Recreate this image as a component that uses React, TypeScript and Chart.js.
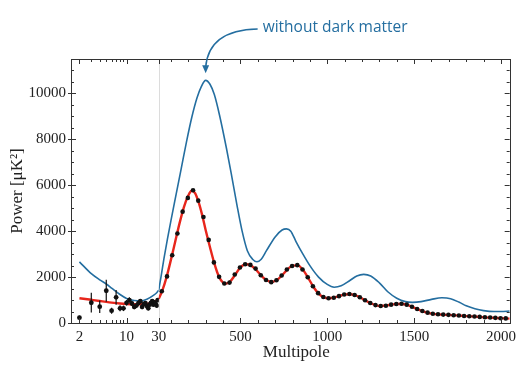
import React, { useEffect, useRef } from 'react';
import { Chart, registerables } from 'chart.js';

Chart.register(...registerables);

// ---------- data ----------
const LOW_ELL = [2, 3, 4, 5, 6, 7, 8, 9, 10, 11, 12, 13, 14, 15, 16, 17, 18, 19, 20, 21, 22, 23, 24, 25, 26, 27, 28, 29];
const LOW_POWER = [230, 883, 709, 1404, 535, 1117, 639, 639, 880, 1000, 850, 700, 760, 870, 950, 700, 820, 870, 740, 640, 800, 880, 950, 800, 900, 830, 760, 1000];
const LOW_ERR = [90, 430, 270, 480, 130, 320, 130, 120, 120, 120, 110, 100, 100, 100, 100, 100, 90, 90, 90, 90, 90, 90, 90, 80, 80, 80, 80, 80];

const BIN_ELL = [47.5, 77.5, 107.5, 137.5, 167.5, 197.5, 227.5, 257.5, 287.5, 317.5, 347.5, 377.5, 407.5, 437.5, 467.5, 497.5, 527.5, 557.5, 587.5, 617.5, 647.5, 677.5, 707.5, 737.5, 767.5, 797.5, 827.5, 857.5, 887.5, 917.5, 947.5, 977.5, 1007.5, 1037.5, 1067.5, 1097.5, 1127.5, 1157.5, 1187.5, 1217.5, 1247.5, 1277.5, 1307.5, 1337.5, 1367.5, 1397.5, 1427.5, 1457.5, 1487.5, 1517.5, 1547.5, 1577.5, 1607.5, 1637.5, 1667.5, 1697.5, 1727.5, 1757.5, 1787.5, 1817.5, 1847.5, 1877.5, 1907.5, 1937.5, 1967.5, 1997.5, 2027.5];
const BIN_POWER = [1380, 2030, 2950, 3900, 4850, 5450, 5780, 5330, 4620, 3620, 2640, 2010, 1720, 1760, 2110, 2420, 2560, 2530, 2370, 2080, 1870, 1780, 1860, 2070, 2330, 2480, 2520, 2330, 1990, 1600, 1300, 1130, 1080, 1100, 1170, 1240, 1260, 1220, 1120, 990, 870, 780, 740, 750, 800, 830, 840, 800, 710, 610, 520, 450, 405, 380, 365, 355, 340, 325, 305, 295, 280, 265, 250, 240, 225, 210, 200];

const RED_LOW_ELL = [2, 3, 4, 5, 6, 8, 10, 13, 16, 20, 25, 30];
const RED_LOW = [1080, 1010, 960, 920, 890, 850, 830, 820, 820, 840, 900, 1050];
const RED_HIGH_ELL = [30, 50, 75, 100, 125, 150, 175, 200, 220, 240, 260, 280, 300, 325, 350, 375, 400, 420, 440, 470, 500, 530, 560, 590, 620, 650, 680, 710, 740, 770, 800, 830, 860, 890, 920, 950, 980, 1010, 1040, 1070, 1100, 1130, 1160, 1190, 1220, 1250, 1280, 1310, 1340, 1370, 1400, 1430, 1460, 1490, 1520, 1550, 1600, 1650, 1700, 1750, 1800, 1850, 1900, 1950, 2000, 2050];
const RED_HIGH = [1050, 1400, 2000, 2750, 3550, 4350, 5050, 5550, 5760, 5650, 5250, 4700, 4050, 3300, 2600, 2050, 1760, 1720, 1800, 2100, 2420, 2560, 2510, 2320, 2060, 1860, 1790, 1870, 2080, 2330, 2500, 2510, 2320, 1970, 1580, 1280, 1120, 1080, 1110, 1180, 1240, 1255, 1210, 1110, 980, 860, 770, 740, 760, 800, 830, 830, 790, 700, 600, 510, 410, 370, 350, 330, 300, 280, 250, 230, 210, 190];

const BLUE_LOW_ELL = [2, 3, 4, 5, 6, 8, 10, 13, 17, 20, 25, 28, 30];
const BLUE_LOW = [2665, 2150, 1880, 1700, 1520, 1240, 1070, 980, 970, 1030, 1200, 1320, 1430];
const BLUE_HIGH_ELL = [30, 45, 60, 80, 100, 130, 160, 190, 220, 250, 275, 300, 325, 350, 380, 420, 450, 480, 510, 540, 570, 595, 620, 650, 700, 740, 765, 790, 820, 860, 900, 950, 1000, 1040, 1080, 1130, 1170, 1210, 1250, 1300, 1350, 1400, 1450, 1490, 1540, 1600, 1660, 1710, 1760, 1800, 1850, 1900, 1960, 2000, 2050];
const BLUE_HIGH = [1430, 2100, 2800, 3650, 4450, 5600, 6750, 7900, 8950, 9800, 10300, 10570, 10400, 9950, 9050, 7600, 6400, 5150, 4000, 3150, 2780, 2670, 2780, 3150, 3750, 4050, 4100, 4000, 3550, 3000, 2500, 2000, 1680, 1560, 1620, 1850, 2050, 2120, 2050, 1750, 1350, 1080, 930, 900, 930, 1030, 1100, 1060, 900, 750, 620, 540, 500, 500, 520];

const LOG_TICK_LABELS = [2, 10, 30];
const LOG_MINOR_TICKS = [2, 3, 4, 5, 6, 7, 8, 9, 10, 20, 30];
const LIN_TICK_LABELS = [500, 1000, 1500, 2000];
const Y_TICK_LABELS = [0, 2000, 4000, 6000, 8000, 10000];

const ANNOT_TEXT = 'without dark matter';
const ANNOT_ELL = 300;
const ANNOT_POWER = 10570;

const BLUE = '#246ea0';
const RED = '#e8261c';
const SERIF = '"Liberation Serif", "DejaVu Serif", serif';

const pts = (xs: number[], ys: number[]) => xs.map((x, i) => ({ x, y: ys[i] }));

const decorPlugin = {
  id: 'decor',
  beforeDatasetsDraw(chart: any) {
    const { ctx, chartArea: a, scales } = chart;
    const x30 = scales.xLin.getPixelForValue(30);
    ctx.save();
    ctx.strokeStyle = '#dcdcdc';
    ctx.lineWidth = 1;
    ctx.beginPath();
    ctx.moveTo(Math.round(x30) + 0.5, a.top);
    ctx.lineTo(Math.round(x30) + 0.5, a.bottom);
    ctx.stroke();
    ctx.restore();
  },
  afterDatasetsDraw(chart: any) {
    const { ctx, scales } = chart;
    const xs = scales.xLog, y = scales.y;
    ctx.save();
    ctx.strokeStyle = '#111';
    ctx.lineWidth = 1.2;
    LOW_ELL.forEach((l, i) => {
      const px = xs.getPixelForValue(l);
      ctx.beginPath();
      ctx.moveTo(px, y.getPixelForValue(LOW_POWER[i] - LOW_ERR[i]));
      ctx.lineTo(px, y.getPixelForValue(LOW_POWER[i] + LOW_ERR[i]));
      ctx.stroke();
    });
    ctx.restore();
  },
  afterDraw(chart: any) {
    const { ctx, chartArea: a, scales } = chart;
    const xLog = scales.xLog, xLin = scales.xLin, y = scales.y;
    ctx.save();
    ctx.strokeStyle = '#333';
    ctx.lineWidth = 1;
    ctx.strokeRect(Math.round(a.left) + 0.5, Math.round(a.top) + 0.5, Math.round(a.right - a.left), Math.round(a.bottom - a.top));
    const vtick = (px: number, len: number) => {
      const x = Math.round(px) + 0.5;
      ctx.beginPath();
      ctx.moveTo(x, a.bottom); ctx.lineTo(x, a.bottom - len);
      ctx.moveTo(x, a.top); ctx.lineTo(x, a.top + len);
      ctx.stroke();
    };
    LOG_MINOR_TICKS.forEach((v) => vtick(xLog.getPixelForValue(v), LOG_TICK_LABELS.includes(v) ? 5 : 3));
    for (let v = 100; v <= 2000; v += 100) vtick(xLin.getPixelForValue(v), v % 500 === 0 ? 5 : 3);
    for (let v = 0; v <= 11500; v += 500) {
      const py = Math.round(y.getPixelForValue(v)) + 0.5;
      const major = v % 2000 === 0;
      const len = major ? 5 : 3;
      ctx.beginPath();
      ctx.moveTo(a.left - (major ? 3 : 0), py); ctx.lineTo(a.left + len, py);
      ctx.moveTo(a.right, py); ctx.lineTo(a.right - len, py);
      ctx.stroke();
    }
    ctx.fillStyle = '#222';
    ctx.font = '17px ' + SERIF;
    ctx.textAlign = 'center';
    ctx.textBaseline = 'middle';
    ctx.fillText('Multipole', (a.left + a.right) / 2 + 6, a.bottom + 30);
    const px = xLin.getPixelForValue(ANNOT_ELL);
    const tipY = y.getPixelForValue(ANNOT_POWER) - 7;
    const ty = a.top - 31;
    const tx = px + 57;
    ctx.fillStyle = BLUE;
    ctx.font = '15.5px "Open Sans", "DejaVu Sans", sans-serif';
    ctx.textAlign = 'left';
    ctx.fillText(ANNOT_TEXT, tx, ty);
    ctx.strokeStyle = BLUE;
    ctx.lineWidth = 1.5;
    ctx.beginPath();
    ctx.moveTo(tx - 5, ty + 1);
    ctx.quadraticCurveTo(px + 3, ty + 2, px, tipY - 6);
    ctx.stroke();
    ctx.beginPath();
    ctx.moveTo(px, tipY);
    ctx.lineTo(px - 3.5, tipY - 8);
    ctx.lineTo(px + 3.5, tipY - 8);
    ctx.closePath();
    ctx.fill();
    ctx.restore();
  },
};

export default function App() {
  const ref = useRef<HTMLCanvasElement | null>(null);
  useEffect(() => {
    if (!ref.current) return;
    const lineBase = { pointRadius: 0, fill: false, cubicInterpolationMode: 'monotone' as const };
    const chart = new Chart(ref.current, {
      type: 'line',
      data: {
        datasets: [
          { ...lineBase, label: 'blueLow', xAxisID: 'xLog', yAxisID: 'y', data: pts(BLUE_LOW_ELL, BLUE_LOW), borderColor: BLUE, borderWidth: 1.6, order: 3 },
          { ...lineBase, label: 'blueHigh', xAxisID: 'xLin', yAxisID: 'y', data: pts(BLUE_HIGH_ELL, BLUE_HIGH), borderColor: BLUE, borderWidth: 1.6, order: 3 },
          { ...lineBase, label: 'redLow', xAxisID: 'xLog', yAxisID: 'y', data: pts(RED_LOW_ELL, RED_LOW), borderColor: RED, borderWidth: 2.4, order: 2 },
          { ...lineBase, label: 'redHigh', xAxisID: 'xLin', yAxisID: 'y', data: pts(RED_HIGH_ELL, RED_HIGH), borderColor: RED, borderWidth: 2.4, order: 2 },
          { label: 'low', xAxisID: 'xLog', yAxisID: 'y', data: pts(LOW_ELL, LOW_POWER), showLine: false, pointRadius: 2.4, pointBackgroundColor: '#111', pointBorderColor: '#111', pointBorderWidth: 0, order: 1 },
          { label: 'bins', xAxisID: 'xLin', yAxisID: 'y', data: pts(BIN_ELL, BIN_POWER), showLine: false, pointRadius: 2.3, pointBackgroundColor: '#111', pointBorderColor: '#111', pointBorderWidth: 0, order: 0 },
        ],
      },
      options: {
        responsive: false,
        animation: false,
        events: [],
        layout: { padding: { top: 59, right: 14, left: 0, bottom: 0 } },
        plugins: { legend: { display: false }, tooltip: { enabled: false } },
        scales: {
          xLog: {
            type: 'logarithmic',
            axis: 'x',
            position: 'bottom',
            stack: 'xs',
            stackWeight: 1,
            min: 1.5,
            max: 30,
            grid: { display: false, drawTicks: false },
            border: { display: false },
            afterBuildTicks: (s: any) => { s.ticks = LOG_TICK_LABELS.map((v) => ({ value: v })); },
            afterFit: (s: any) => { s.height = 45; },
            ticks: {
              autoSkip: false, maxRotation: 0, padding: 5, color: '#222',
              font: { family: SERIF, size: 15 },
              callback: (v: any) => String(v),
            },
          },
          xLin: {
            type: 'linear',
            axis: 'x',
            position: 'bottom',
            stack: 'xs',
            stackWeight: 4,
            min: 30,
            max: 2050,
            grid: { display: false, drawTicks: false },
            border: { display: false },
            afterBuildTicks: (s: any) => { s.ticks = LIN_TICK_LABELS.map((v) => ({ value: v })); },
            afterFit: (s: any) => { s.height = 45; },
            ticks: {
              autoSkip: false, maxRotation: 0, padding: 5, color: '#222',
              font: { family: SERIF, size: 15 },
              callback: (v: any) => String(v),
            },
          },
          y: {
            type: 'linear',
            position: 'left',
            min: 0,
            max: 11500,
            grid: { display: false, drawTicks: false },
            border: { display: false },
            afterBuildTicks: (s: any) => { s.ticks = Y_TICK_LABELS.map((v) => ({ value: v })); },
            afterFit: (s: any) => { s.width = 71; },
            ticks: {
              autoSkip: false, padding: 5, color: '#222',
              font: { family: SERIF, size: 15 },
              callback: (v: any) => String(v),
            },
            title: {
              display: true,
              text: 'Power [μK²]',
              color: '#222',
              font: { family: SERIF, size: 17 },
              padding: { top: 7, bottom: 0 },
            },
          },
        },
      },
      plugins: [decorPlugin],
    } as any);
    return () => chart.destroy();
  }, []);
  return (
    <div style={{ position: 'absolute', left: 0, top: 0, width: 525, height: 368 }}>
      <canvas ref={ref} width={525} height={368} style={{ display: 'block' }} />
    </div>
  );
}
